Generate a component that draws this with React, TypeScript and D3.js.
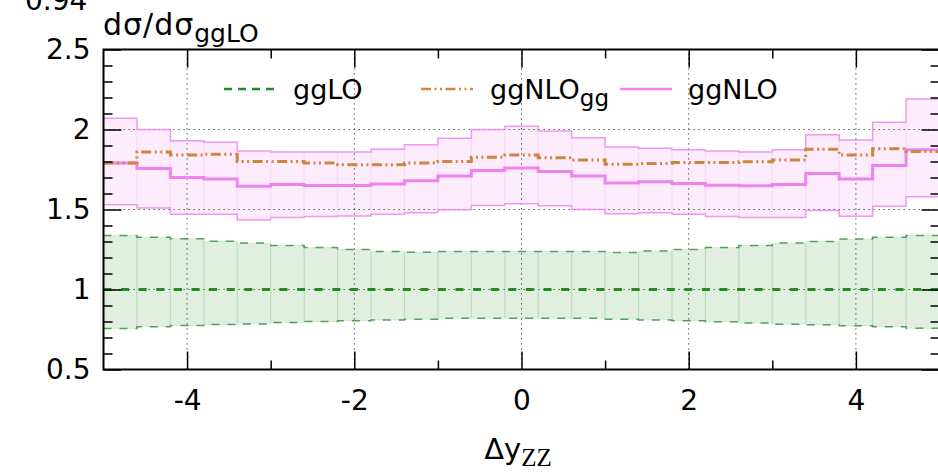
import React, { useRef, useEffect } from 'react';
import * as d3 from 'd3';

// lower edges of the 0.4 wide bins in delta y_ZZ
const binLow = [
  -5, -4.6, -4.2, -3.8, -3.4, -3, -2.6, -2.2, -1.8, -1.4, -1, -0.6, -0.2,
  0.2, 0.6, 1, 1.4, 1.8, 2.2, 2.6, 3, 3.4, 3.8, 4.2, 4.6,
];
const binEnd = 5;

// ggLO central ratio and scale band
const ggLO = [
  1, 1, 1, 1, 1, 1, 1, 1, 1, 1, 1, 1, 1, 1, 1, 1, 1, 1, 1, 1, 1, 1, 1, 1, 1,
];
const ggLOUp = [
  1.337, 1.327, 1.317, 1.302, 1.29, 1.275, 1.262, 1.25, 1.238, 1.233, 1.238,
  1.238, 1.238, 1.238, 1.238, 1.231, 1.24, 1.25, 1.262, 1.275, 1.29, 1.3,
  1.315, 1.327, 1.337,
];
const ggLODown = [
  0.756, 0.767, 0.775, 0.781, 0.785, 0.794, 0.8, 0.804, 0.81, 0.814, 0.82,
  0.82, 0.82, 0.82, 0.82, 0.814, 0.81, 0.804, 0.798, 0.79, 0.783, 0.78, 0.773,
  0.767, 0.758,
];

// ggNLO central ratio and scale band
const ggNLO = [
  1.79, 1.756, 1.7, 1.69, 1.645, 1.656, 1.65, 1.65, 1.66, 1.68, 1.71, 1.744,
  1.76, 1.737, 1.71, 1.665, 1.673, 1.662, 1.652, 1.648, 1.656, 1.725, 1.69,
  1.775, 1.873,
];
const ggNLOUp = [
  2.07, 2.0, 1.93, 1.92, 1.865, 1.86, 1.86, 1.86, 1.877, 1.904, 1.946, 2.0,
  2.02, 1.99, 1.948, 1.89, 1.883, 1.873, 1.865, 1.86, 1.873, 1.967, 1.935,
  2.046, 2.19,
];
const ggNLODown = [
  1.53, 1.51, 1.47, 1.47, 1.435, 1.45, 1.456, 1.46, 1.47, 1.48, 1.498, 1.525,
  1.536, 1.523, 1.5, 1.473, 1.48, 1.47, 1.456, 1.45, 1.45, 1.494, 1.458, 1.52,
  1.58,
];

// ggNLO, gg channel only
const ggNLOgg = [
  1.79, 1.86, 1.84, 1.845, 1.8, 1.8, 1.79, 1.78, 1.78, 1.79, 1.8, 1.827, 1.84,
  1.823, 1.81, 1.783, 1.787, 1.794, 1.794, 1.798, 1.81, 1.877, 1.84, 1.88,
  1.862,
];

const xMajor = [-4, -2, 0, 2, 4];
const xMinor = [-3, -1, 1, 3];
const yMajor = [0.5, 1, 1.5, 2, 2.5];
const yMinor = [
  0.6, 0.7, 0.8, 0.9, 1.1, 1.2, 1.3, 1.4, 1.6, 1.7, 1.8, 1.9, 2.1, 2.2, 2.3,
  2.4,
];

const FONT = 'DejaVu Sans, sans-serif';
const GREEN = '#228b22';
const VIOLET = '#ee82ee';
const PERU = '#cd853f';

const App = () => {
  const svgRef = useRef(null);

  useEffect(() => {
    const w = 938;
    const h = 472;
    const svg = d3.select(svgRef.current).attr('width', w).attr('height', h);
    svg.selectAll('*').remove();

    const x = d3.scaleLinear().domain([-5, 5]).range([103.5, 939.5]);
    const y = d3.scaleLinear().domain([0.5, 2.5]).range([369.5, 49.5]);

    const steps = (vals) =>
      binLow.map((b, i) => [b, vals[i]]).concat([[binEnd, vals[vals.length - 1]]]);

    const line = d3
      .line()
      .x((d) => x(d[0]))
      .y((d) => y(d[1]))
      .curve(d3.curveStepAfter);

    const plot = svg.append('g');

    // bands, one rect per bin
    const band = (lo, hi, color, op) => {
      plot
        .append('g')
        .selectAll('rect')
        .data(binLow)
        .join('rect')
        .attr('x', (d) => x(d))
        .attr('width', (d, i) => x(i < binLow.length - 1 ? binLow[i + 1] : binEnd) - x(d))
        .attr('y', (d, i) => y(hi[i]))
        .attr('height', (d, i) => y(lo[i]) - y(hi[i]))
        .style('fill', color)
        .style('fill-opacity', op)
        .style('stroke', color)
        .style('stroke-opacity', 0.1)
        .style('stroke-width', 1);
    };
    band(ggLODown, ggLOUp, GREEN, 0.14);
    band(ggNLODown, ggNLOUp, VIOLET, 0.15);

    // grid
    const grid = plot.append('g').style('stroke', '#333').style('stroke-width', 1).style('stroke-dasharray', '1.2,3.8');
    grid
      .selectAll('.gx')
      .data(xMajor)
      .join('line')
      .attr('x1', (d) => x(d))
      .attr('x2', (d) => x(d))
      .attr('y1', y(0.5))
      .attr('y2', y(2.5));
    grid
      .selectAll('.gy')
      .data([1, 1.5, 2])
      .join('line')
      .attr('x1', x(-5))
      .attr('x2', x(5))
      .attr('y1', (d) => y(d))
      .attr('y2', (d) => y(d));

    // band edges
    const edge = (vals, color, dash, op) =>
      plot
        .append('path')
        .attr('d', line(steps(vals)))
        .style('fill', 'none')
        .style('stroke', color)
        .style('stroke-width', 1.5)
        .style('stroke-opacity', op)
        .style('stroke-dasharray', dash);
    edge(ggLOUp, GREEN, '8,8', 0.75);
    edge(ggLODown, GREEN, '8,8', 0.75);
    edge(ggNLOUp, VIOLET, null, 0.8);
    edge(ggNLODown, VIOLET, null, 0.8);

    // central lines
    const central = (vals, color, dash, wdt) =>
      plot
        .append('path')
        .attr('d', line(steps(vals)))
        .style('fill', 'none')
        .style('stroke', color)
        .style('stroke-width', wdt)
        .style('stroke-dasharray', dash);
    central(ggLO, GREEN, '8,9.6', 3);
    central(ggNLO, VIOLET, null, 3);
    central(ggNLOgg, PERU, '10,3.5,2,3.5,2,3.5', 3);

    // ticks on all four sides
    const noDomain = (g) => g.select('.domain').remove();
    const tickStyle = (g) => g.selectAll('line').style('stroke', '#000').style('stroke-width', 1.5);

    svg
      .append('g')
      .attr('transform', `translate(0, ${y(0.5)})`)
      .call(d3.axisBottom(x).tickValues(xMajor).tickSizeInner(-18).tickSizeOuter(0).tickPadding(21).tickFormat((d) => String(d)))
      .call(noDomain)
      .call(tickStyle)
      .call((g) => g.selectAll('text').style('font-family', FONT).style('font-size', '28px').style('fill', '#000'));
    svg
      .append('g')
      .attr('transform', `translate(0, ${y(0.5)})`)
      .call(d3.axisBottom(x).tickValues(xMinor).tickSizeInner(-9).tickSizeOuter(0).tickFormat(() => ''))
      .call(noDomain)
      .call(tickStyle);
    svg
      .append('g')
      .attr('transform', `translate(0, ${y(2.5)})`)
      .call(d3.axisTop(x).tickValues(xMajor).tickSizeInner(-18).tickSizeOuter(0).tickFormat(() => ''))
      .call(noDomain)
      .call(tickStyle);
    svg
      .append('g')
      .attr('transform', `translate(0, ${y(2.5)})`)
      .call(d3.axisTop(x).tickValues(xMinor).tickSizeInner(-9).tickSizeOuter(0).tickFormat(() => ''))
      .call(noDomain)
      .call(tickStyle);

    svg
      .append('g')
      .attr('transform', `translate(${x(-5)}, 0)`)
      .call(d3.axisLeft(y).tickValues(yMajor).tickSizeInner(-18).tickSizeOuter(0).tickPadding(13).tickFormat((d) => String(d)))
      .call(noDomain)
      .call(tickStyle)
      .call((g) => g.selectAll('text').style('font-family', FONT).style('font-size', '28px').style('fill', '#000'));
    svg
      .append('g')
      .attr('transform', `translate(${x(-5)}, 0)`)
      .call(d3.axisLeft(y).tickValues(yMinor).tickSizeInner(-9).tickSizeOuter(0).tickFormat(() => ''))
      .call(noDomain)
      .call(tickStyle);
    svg
      .append('g')
      .attr('transform', `translate(${x(5)}, 0)`)
      .call(d3.axisRight(y).tickValues(yMajor).tickSizeInner(-18).tickSizeOuter(0).tickFormat(() => ''))
      .call(noDomain)
      .call(tickStyle);
    svg
      .append('g')
      .attr('transform', `translate(${x(5)}, 0)`)
      .call(d3.axisRight(y).tickValues(yMinor).tickSizeInner(-9).tickSizeOuter(0).tickFormat(() => ''))
      .call(noDomain)
      .call(tickStyle);

    // frame
    svg
      .append('rect')
      .attr('x', x(-5))
      .attr('y', y(2.5))
      .attr('width', x(5) - x(-5))
      .attr('height', y(0.5) - y(2.5))
      .style('fill', 'none')
      .style('stroke', '#000')
      .style('stroke-width', 2);

    // legend
    const legend = [
      { label: 'ggLO', sub: '', color: GREEN, dash: '8,6', x0: 224, tx: 293 },
      { label: 'ggNLO', sub: 'gg', color: PERU, dash: '10,3.5,2,3.5,2,3.5', x0: 421, tx: 490 },
      { label: 'ggNLO', sub: '', color: VIOLET, dash: null, x0: 620, tx: 688 },
    ];
    const lg = svg.append('g');
    legend.forEach((d) => {
      lg.append('line')
        .attr('x1', d.x0)
        .attr('x2', d.x0 + 52)
        .attr('y1', 89)
        .attr('y2', 89)
        .style('stroke', d.color)
        .style('stroke-width', 2.5)
        .style('stroke-dasharray', d.dash);
      const t = lg
        .append('text')
        .attr('x', d.tx)
        .attr('y', 99)
        .style('font-family', FONT)
        .style('font-size', '27px')
        .text(d.label);
      if (d.sub) t.append('tspan').attr('dy', 7).style('font-size', '23px').text(d.sub);
    });

    // axis titles
    const yl = svg
      .append('text')
      .attr('x', 103)
      .attr('y', 35)
      .style('font-family', FONT)
      .style('font-size', '30px')
      .style('letter-spacing', '1px')
      .text('dσ/dσ');
    yl.append('tspan').attr('dy', 7).style('font-size', '25px').style('letter-spacing', '0px').text('ggLO');

    const xl = svg
      .append('text')
      .attr('x', 518)
      .attr('y', 459)
      .attr('text-anchor', 'middle')
      .style('font-family', FONT)
      .style('font-size', '29px')
      .text('Δy');
    xl.append('tspan')
      .attr('dy', 7)
      .style('font-family', 'Liberation Serif, serif')
      .style('font-size', '25px')
      .text('ZZ');

    // clipped value label left over from the panel above
    svg
      .append('text')
      .attr('x', 25)
      .attr('y', 10)
      .style('font-family', FONT)
      .style('font-size', '28px')
      .text('0.94');
  }, []);

  return <svg ref={svgRef} style={{ position: 'absolute', left: 0, top: 0 }}></svg>;
};

export default App;
